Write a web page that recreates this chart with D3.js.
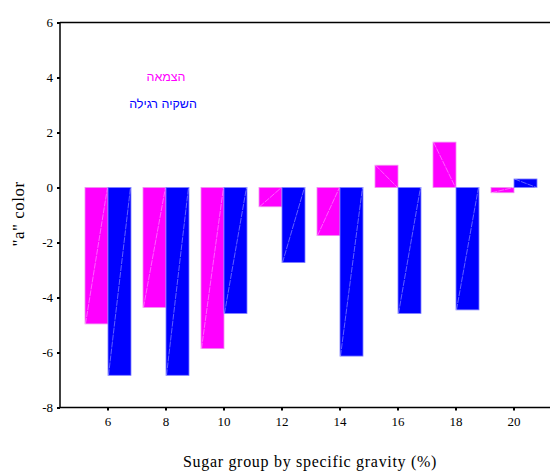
<!DOCTYPE html>
<html><head><meta charset="utf-8">
<script src="https://cdn.jsdelivr.net/npm/d3@7"></script>
<style>body{margin:0;background:#fff}</style>
</head><body>
<svg id="c" width="550" height="472"></svg>
<script>
const categories = ["6","8","10","12","14","16","18","20"];
const drought = [-4.96, -4.36, -5.86, -0.70, -1.75, 0.81, 1.65, -0.19];
const regular = [-6.83, -6.83, -4.58, -2.73, -6.13, -4.58, -4.45, 0.31];
const seriesNames = ["הצמאה", "השקיה רגילה"];
const seriesColors = ["#ff00ff", "#0000ff"];
const yTicks = [-8, -6, -4, -2, 0, 2, 4, 6];

(function () {
const svg = d3.select("#c");
const pLeft = 60, pRight = 550, pTop = 22.5, pBottom = 407.5;
const x = d3.scaleBand().domain(categories).range([79, 543]).paddingInner(0).paddingOuter(0);
const y = d3.scaleLinear().domain([-8, 6]).range([pBottom, pTop]);
const barW = 23;
const serif = "Liberation Serif, serif";

const data = [];
categories.forEach((c, i) => {
  data.push({c, v: drought[i], s: 0});
  data.push({c, v: regular[i], s: 1});
});

const g = svg.append("g");
data.forEach(d => {
  const cx = x(d.c) + x.bandwidth() / 2;
  const x0 = d.s === 0 ? cx - barW : cx;
  const x1 = x0 + barW;
  const y0 = y(Math.max(0, d.v)), y1 = y(Math.min(0, d.v));
  g.append("rect").attr("x", x0).attr("y", y0).attr("width", barW).attr("height", y1 - y0)
    .attr("fill", seriesColors[d.s]).attr("stroke", d.s === 0 ? "#f08ff0" : "#8080ff").attr("stroke-width", 0.8);
  g.append("line").attr("x1", x0 + 0.5).attr("y1", y(d.v)).attr("x2", x1 - 0.5).attr("y2", y(0))
    .attr("stroke", "#ffffff").attr("stroke-opacity", 0.55).attr("stroke-width", 0.7)
    .attr("stroke-dasharray", "6,1");
});

svg.append("line").attr("x1", pLeft).attr("x2", pRight).attr("y1", pTop).attr("y2", pTop)
  .attr("stroke", "#000").attr("stroke-width", 1.5);

const yAxis = d3.axisLeft(y).tickValues(yTicks).tickSize(3).tickFormat(d => String(d));
const ya = svg.append("g").attr("transform", `translate(${pLeft},0)`).call(yAxis);
ya.select(".domain").attr("stroke-width", 1.5).attr("d", `M0,${pTop}V${pBottom}`);
ya.selectAll(".tick line").attr("stroke-width", 2);
ya.selectAll("text").attr("font-family", serif).attr("font-size", 13).attr("fill", "#000").attr("x", -7);

const xAxis = d3.axisBottom(x).tickSize(3);
const xa = svg.append("g").attr("transform", `translate(0,${pBottom})`).call(xAxis);
xa.select(".domain").attr("stroke-width", 1.5).attr("d", `M${pLeft},0H${pRight}`);
xa.selectAll(".tick line").attr("stroke-width", 2);
xa.selectAll("text").attr("font-family", serif).attr("font-size", 13).attr("fill", "#000").attr("y", 9);

svg.append("text").attr("x", 310).attr("y", 467).attr("text-anchor", "middle")
  .attr("font-family", serif).attr("font-size", 16).attr("letter-spacing", 0.7)
  .text("Sugar group by specific gravity (%)");
svg.append("text").attr("transform", "translate(24,214) rotate(-90)").attr("text-anchor", "middle")
  .attr("font-family", serif).attr("font-size", 17).attr("letter-spacing", 0.5).text('"a" color');

svg.append("text").attr("x", 166).attr("y", 81).attr("text-anchor", "middle").attr("fill", seriesColors[0])
  .attr("font-family", "Liberation Sans, Arial, sans-serif").attr("font-size", 12.5).text(seriesNames[0]);
svg.append("text").attr("x", 163).attr("y", 108).attr("text-anchor", "middle").attr("fill", seriesColors[1])
  .attr("font-family", "Liberation Sans, Arial, sans-serif").attr("font-size", 12.5).text(seriesNames[1]);
})();
</script>
</body></html>
